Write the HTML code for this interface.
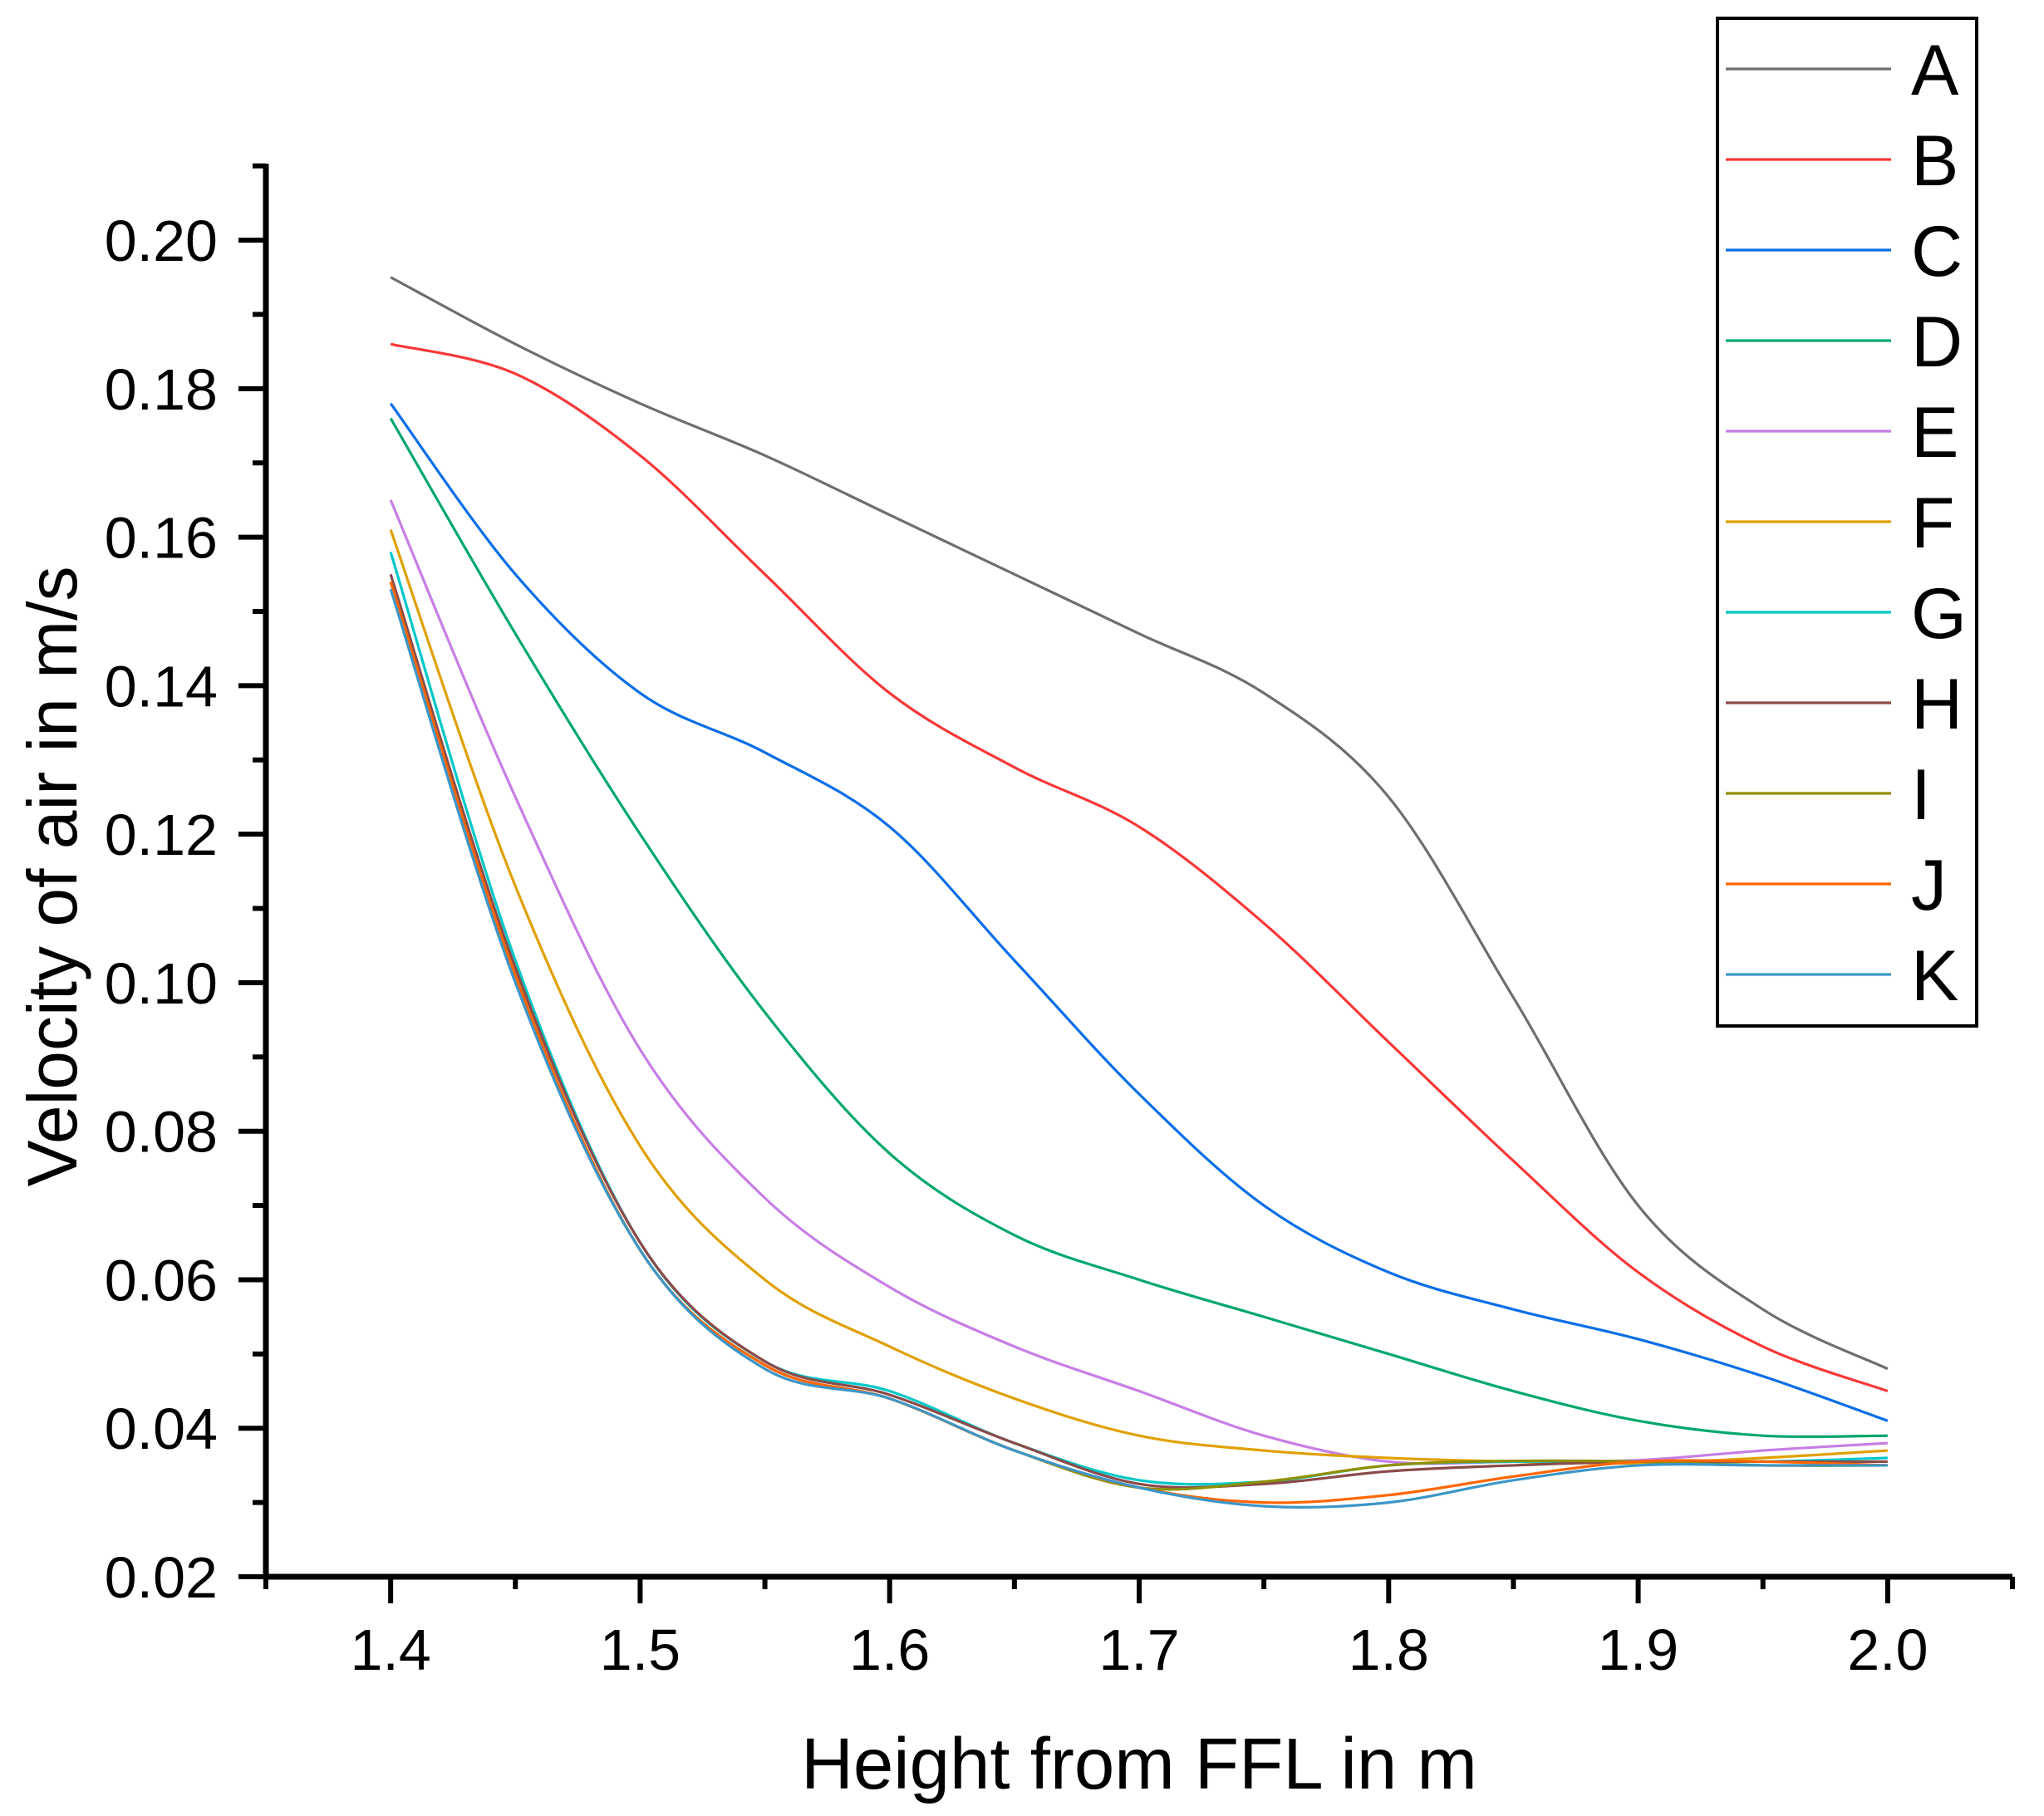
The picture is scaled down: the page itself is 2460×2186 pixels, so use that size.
<!DOCTYPE html>
<html><head><meta charset="utf-8"><style>
html,body{margin:0;padding:0;background:#fff}
svg{display:block}
text{font-family:"Liberation Sans",sans-serif;fill:#000}
</style></head><body>
<svg id="chart" width="2460" height="2186" viewBox="0 0 2460 2186" xmlns="http://www.w3.org/2000/svg">
<g id="plot"></g>
</svg>
<script>
const xValues=[1.4,1.45,1.5,1.55,1.6,1.65,1.7,1.75,1.8,1.85,1.9,1.95,2.0];
const seriesNames=["A","B","C","D","E","F","G","H","I","J","K"];
const seriesColors=["#6e6e6e","#f83838","#0a6ee8","#00a86b","#c77ee5","#e0a000","#00c8c8","#8b4a4a","#8f8f00","#ff6600","#3c96c8"];
const sA=[0.195,0.186,0.178,0.171,0.163,0.155,0.147,0.139,0.125,0.098,0.070,0.056,0.048];
const sB=[0.186,0.182,0.171,0.155,0.139,0.129,0.121,0.108,0.092,0.076,0.061,0.051,0.045];
const sC=[0.178,0.155,0.139,0.131,0.121,0.103,0.085,0.070,0.061,0.056,0.052,0.047,0.041];
const sD=[0.176,0.147,0.120,0.096,0.077,0.066,0.060,0.055,0.050,0.045,0.041,0.039,0.039];
const sE=[0.165,0.125,0.091,0.071,0.059,0.051,0.045,0.039,0.0355,0.0355,0.0357,0.037,0.038];
const sF=[0.161,0.113,0.078,0.060,0.051,0.044,0.039,0.037,0.036,0.0355,0.0353,0.036,0.037];
const sG=[0.158,0.103,0.065,0.049,0.045,0.038,0.033,0.0328,0.035,0.0355,0.0355,0.0355,0.036];
const sH=[0.155,0.102,0.065,0.049,0.0445,0.038,0.0325,0.0325,0.0342,0.035,0.0355,0.0355,0.0355];
const sI=[0.154,0.101,0.064,0.0485,0.044,0.037,0.032,0.0328,0.035,0.0356,0.0355,0.035,0.035];
const sJ=[0.154,0.101,0.064,0.0485,0.044,0.037,0.032,0.030,0.031,0.0335,0.0355,0.0355,0.035];
const sK=[0.153,0.100,0.064,0.048,0.044,0.037,0.032,0.0295,0.030,0.033,0.035,0.035,0.035];
const seriesValues=[sA,sB,sC,sD,sE,sF,sG,sH,sI,sJ,sK];
const xTicks=[1.4,1.5,1.6,1.7,1.8,1.9,2.0];
const yTicks=[0.02,0.04,0.06,0.08,0.10,0.12,0.14,0.16,0.18,0.20];

const X0=320,X1=2422,Y0=1898,Y1=197;
const xMin=1.35,xMax=2.05,yMin=0.02,yMax=0.2103;
const xs=v=>X0+(v-xMin)/(xMax-xMin)*(X1-X0);
const ys=v=>Y0-(v-yMin)/(yMax-yMin)*(Y0-Y1);
const NS="http://www.w3.org/2000/svg";
const g=document.getElementById('plot');
function mk(t,a,txt){const e=document.createElementNS(NS,t);for(const k in a)e.setAttribute(k,a[k]);if(txt!==undefined)e.textContent=txt;g.appendChild(e);return e;}

seriesValues.forEach((vals,i)=>{
  const p=vals.map((v,j)=>[xs(xValues[j]),ys(v)]);
  let d=`M${p[0][0]},${p[0][1]}`;
  for(let j=0;j<p.length-1;j++){
    const a=p[j-1]||p[j],b=p[j],c=p[j+1],e=p[j+2]||p[j+1];
    d+=` C${b[0]+(c[0]-a[0])/6},${b[1]+(c[1]-a[1])/6} ${c[0]-(e[0]-b[0])/6},${c[1]-(e[1]-b[1])/6} ${c[0]},${c[1]}`;
  }
  const el=mk('path',{d:d,fill:'none',stroke:seriesColors[i],'stroke-width':3.2});
  
  
});

const ax=mk('path',{d:`M${X0},${Y1} V${Y0} H${X1}`,fill:'none',stroke:'#000','stroke-width':7});


for(let k=2;k<=21;k++){
  const v=k/100;
  const major=k%2===0;
  const t=mk('line',{x1:X0-(major?33:16),x2:X0,y1:ys(v),y2:ys(v),stroke:'#000','stroke-width':6});
  
  
}
for(let k=27;k<=41;k++){
  const v=k*0.05;
  const major=k%2===0;
  const t=mk('line',{x1:xs(v),x2:xs(v),y1:Y0,y2:Y0+(major?32:15),stroke:'#000','stroke-width':6});
  
  
}
yTicks.forEach(v=>{
  const t=mk('text',{x:262,y:ys(v)+25,'text-anchor':'end','font-size':70},v.toFixed(2));
  
  
});
xTicks.forEach(v=>{
  const t=mk('text',{x:xs(v),y:2010,'text-anchor':'middle','font-size':70},v.toFixed(1));
  
  
});
const xt=mk('text',{x:1371,y:2153,'text-anchor':'middle','font-size':87},'Height from FFL in m');


const yt=mk('text',{x:0,y:0,'text-anchor':'middle','font-size':84,transform:'translate(92,1055) rotate(-90)'},'Velocity of air in m/s');



const lb=mk('rect',{x:2067,y:22,width:312,height:1213,fill:'#fff',stroke:'#000','stroke-width':4});


seriesNames.forEach((n,i)=>{
  const y=83+i*109;
  const l=mk('line',{x1:2077,x2:2276,y1:y,y2:y,stroke:seriesColors[i],'stroke-width':3.2});
  
  
  const t=mk('text',{x:2300,y:y+31,'font-size':86},n);
  
  
});
</script>
</body></html>
